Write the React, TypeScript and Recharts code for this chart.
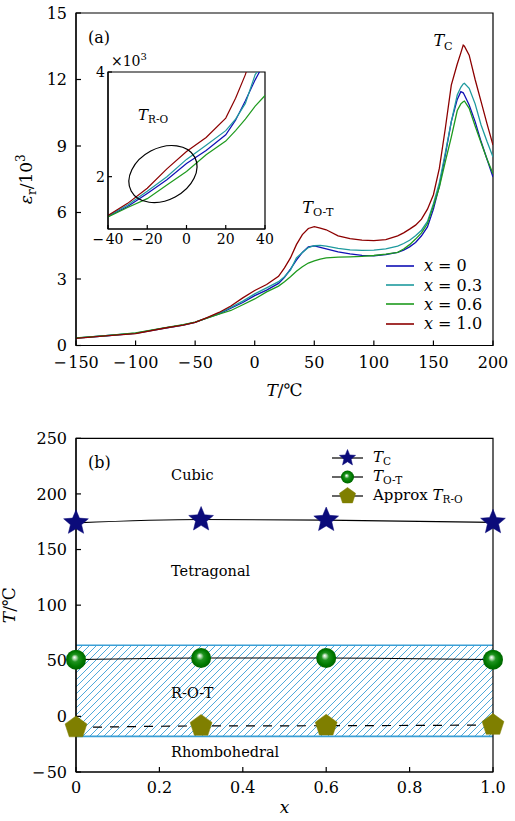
import React from 'react';
import { LineChart, Line, XAxis, YAxis, ReferenceDot, ReferenceArea, Legend } from 'recharts';

const FONT = '"DejaVu Serif", serif';

// (a) dielectric permittivity (x10^3) against temperature
const temps = [-150, -125, -100, -75, -60, -50, -40, -30, -20, -10, 0, 10, 20, 25, 30, 35, 40, 45, 50, 55, 60, 70, 80, 90, 100, 110, 120, 125, 130, 135, 140, 145, 150, 155, 160, 165, 170, 173, 175, 176, 180, 185, 190, 195, 200];
const epsX0 = [0.33, 0.44, 0.55, 0.79, 0.92, 1.04, 1.24, 1.43, 1.68, 1.94, 2.25, 2.5, 2.8, 3.08, 3.45, 3.85, 4.2, 4.45, 4.49, 4.43, 4.36, 4.22, 4.13, 4.07, 4.05, 4.1, 4.2, 4.3, 4.45, 4.65, 4.95, 5.35, 6.15, 7.2, 8.6, 10.1, 11.1, 11.45, 11.4, 11.3, 10.85, 10.1, 9.2, 8.4, 7.6];
const epsX03 = [0.33, 0.44, 0.56, 0.8, 0.93, 1.05, 1.25, 1.46, 1.72, 2.0, 2.33, 2.6, 2.88, 3.1, 3.4, 3.95, 4.2, 4.42, 4.5, 4.52, 4.48, 4.38, 4.31, 4.29, 4.3, 4.36, 4.48, 4.6, 4.75, 4.95, 5.2, 5.6, 6.4, 7.35, 8.7, 10.1, 11.3, 11.65, 11.8, 11.83, 11.6, 10.9, 9.95, 9.2, 8.5];
const epsX06 = [0.34, 0.45, 0.57, 0.81, 0.94, 1.05, 1.23, 1.41, 1.58, 1.84, 2.1, 2.42, 2.68, 2.88, 3.1, 3.35, 3.55, 3.72, 3.82, 3.9, 3.95, 3.99, 4.0, 4.02, 4.06, 4.12, 4.2, 4.35, 4.55, 4.8, 5.08, 5.5, 6.3, 7.15, 8.3, 9.4, 10.6, 10.9, 11.0, 11.03, 10.7, 9.9, 9.15, 8.4, 7.75];
const epsX10 = [0.32, 0.43, 0.54, 0.79, 0.92, 1.04, 1.26, 1.49, 1.78, 2.15, 2.48, 2.75, 3.12, 3.5, 3.95, 4.55, 5.0, 5.28, 5.36, 5.3, 5.22, 4.95, 4.82, 4.75, 4.73, 4.78, 4.95, 5.08, 5.25, 5.43, 5.7, 6.15, 6.8, 8.0, 9.8, 11.75, 12.7, 13.2, 13.55, 13.5, 13.1, 12.0, 11.0, 10.0, 9.04];

const tempTicks = [-150, -100, -50, 0, 50, 100, 150, 200];
const epsTicks = [0, 3, 6, 9, 12, 15];
const insetTempTicks = [-40, -20, 0, 20, 40];
const insetEpsTicks = [2, 4];

// (b) phase diagram
const compositions = [0, 0.3, 0.6, 1.0];
const tCurie = [174, 177, 176.5, 174.5];
const tOT = [51, 52.5, 52.5, 51];
const tRO = [-10, -8.6, -8.4, -7.8];
const rotBand = [-18, 64];
const compTicks = [0, 0.2, 0.4, 0.6, 0.8, 1.0];
const phaseTempTicks = [-50, 0, 50, 100, 150, 200, 250];

const seriesA = [
  { key: 'x0', label: '0', color: '#1010b4', values: epsX0 },
  { key: 'x03', label: '0.3', color: '#1e9a9e', values: epsX03 },
  { key: 'x06', label: '0.6', color: '#1e9a1e', values: epsX06 },
  { key: 'x10', label: '1.0', color: '#8c0000', values: epsX10 },
];

const tableA = temps.map((t, i) => {
  const row: Record<string, number> = { T: t };
  seriesA.forEach((s) => { row[s.key] = s.values[i]; });
  return row;
});

const tableB = compositions.map((x, i) => ({ x, tc: tCurie[i], tot: tOT[i], tro: tRO[i] }));

const minus = (v: number) => (v < 0 ? `\u2212\u200A${-v}` : `${v}`);

const tickStyle = { fill: '#000', fontSize: 16, fontFamily: FONT };

// text placed at a data point
const note = (content: React.ReactNode, size = 16) => (p: any) => (
  <text x={p.cx} y={p.cy} fontFamily={FONT} fontSize={size} fill="#000">{content}</text>
);

const sub = (base: string, s: string, size = 16) => [
  <tspan key="b" fontStyle="italic">{base}</tspan>,
  <tspan key="s" fontSize={size * 0.7} dy={size * 0.22}>{s}</tspan>,
];

const starPts = (cx: number, cy: number, R: number) =>
  Array.from({ length: 10 }, (_, i) => {
    const a = -Math.PI / 2 + (i * Math.PI) / 5;
    const rad = i % 2 === 0 ? R : R * 0.45;
    return `${cx + rad * Math.cos(a)},${cy + rad * Math.sin(a)}`;
  }).join(' ');

const pentPts = (cx: number, cy: number, R: number) =>
  Array.from({ length: 5 }, (_, i) => {
    const a = -Math.PI / 2 + (i * 2 * Math.PI) / 5;
    return `${cx + R * Math.cos(a)},${cy + R * Math.sin(a)}`;
  }).join(' ');

const Star = ({ cx, cy, r }: any) => <polygon points={starPts(cx, cy, r)} fill="#0b0b7a" stroke="#0b0b7a" strokeWidth={0.5} />;
const Pent = ({ cx, cy, r }: any) => <polygon points={pentPts(cx, cy, r)} fill="#7f7f00" stroke="#7f7f00" strokeWidth={0.5} />;
const Ball = ({ cx, cy, r }: any) => (
  <g>
    <defs>
      <radialGradient id="ballGrad" cx="0.5" cy="0.5" r="0.5" fx="0.42" fy="0.38">
        <stop offset="0" stopColor="#ffffff" />
        <stop offset="0.15" stopColor="#b8e0b8" />
        <stop offset="0.38" stopColor="#1f931f" />
        <stop offset="0.75" stopColor="#007a00" />
        <stop offset="1" stopColor="#006400" />
      </radialGradient>
    </defs>
    <circle cx={cx} cy={cy} r={r} fill="url(#ballGrad)" />
  </g>
);

const Sub = ({ children }: { children: React.ReactNode }) => (
  <span style={{ fontSize: 10.5, position: 'relative', top: 2.5 }}>{children}</span>
);

const seriesB = [
  { key: 'tc', Marker: Star, size: 13, legend: 8.5, dash: undefined, text: <><i>T</i><Sub>C</Sub></> },
  { key: 'tot', Marker: Ball, size: 10, legend: 6.5, dash: undefined, text: <><i>T</i><Sub>O-T</Sub></> },
  { key: 'tro', Marker: Pent, size: 11.5, legend: 8.5, dash: '9 8', text: <>Approx <i>T</i><Sub>R-O</Sub></> },
];

const legendA = () => (
  <div style={{ fontFamily: FONT, fontSize: 16, color: '#000' }}>
    {seriesA.map((s) => (
      <div key={s.key} style={{ display: 'flex', alignItems: 'center', height: 19.4 }}>
        <svg width={28} height={4}><line x1={0} x2={28} y1={2} y2={2} stroke={s.color} strokeWidth={1.6} /></svg>
        <span style={{ marginLeft: 10, whiteSpace: 'nowrap' }}><i>x</i> = {s.label}</span>
      </div>
    ))}
  </div>
);

const legendB = () => (
  <div style={{ fontFamily: FONT, fontSize: 15, color: '#000' }}>
    {seriesB.map((s) => (
      <div key={s.key} style={{ display: 'flex', alignItems: 'center', height: 19, lineHeight: '17px' }}>
        <svg width={31} height={18}>
          <line x1={0} x2={31} y1={9} y2={9} stroke="#000" strokeWidth={1.2} />
          <s.Marker cx={15.5} cy={9} r={s.legend} />
        </svg>
        <span style={{ marginLeft: 10, whiteSpace: 'nowrap' }}>{s.text}</span>
      </div>
    ))}
  </div>
);

const rotatedLabel = (content: React.ReactNode, dx: number) => (props: any) => {
  const vb = props.viewBox;
  const x = vb.x + dx;
  const y = vb.y + vb.height / 2;
  return (
    <text x={x} y={y} dy="0.35em" transform={`rotate(-90 ${x} ${y})`} textAnchor="middle" fontFamily={FONT} fontSize={17} fill="#000">
      {content}
    </text>
  );
};

const bottomLabel = (content: React.ReactNode, dy: number) => (props: any) => {
  const vb = props.viewBox;
  return (
    <text x={vb.x + vb.width / 2} y={vb.y + dy} textAnchor="middle" fontFamily={FONT} fontSize={17} fill="#000">
      {content}
    </text>
  );
};

const HatchBand = (p: any) => (
  <g>
    <defs>
      <pattern id="rotHatch" patternUnits="userSpaceOnUse" width={7} height={7}>
        <path d="M-1,1 L1,-1 M0,7 L7,0 M6,8 L8,6" stroke="#3a9fd6" strokeWidth={0.9} />
      </pattern>
    </defs>
    <rect x={p.x} y={p.y} width={p.width} height={p.height} fill="url(#rotHatch)" />
    <line x1={p.x} x2={p.x + p.width} y1={p.y} y2={p.y} stroke="#3a9fd6" strokeWidth={1.6} />
    <line x1={p.x} x2={p.x + p.width} y1={p.y + p.height} y2={p.y + p.height} stroke="#3a9fd6" strokeWidth={1.6} />
  </g>
);

export default function App() {
  return (
    <div style={{ position: 'absolute', left: 0, top: 0, width: 515, height: 821, background: '#fff', fontFamily: FONT }}>
      {/* (a) main permittivity curves */}
      <div style={{ position: 'absolute', left: 0, top: 0 }}>
        <LineChart width={515} height={400} data={tableA} margin={{ top: 13, right: 22, left: 4, bottom: 24.5 }}>
          <XAxis dataKey="T" type="number" domain={[-150, 200]} ticks={tempTicks} tickFormatter={minus} allowDataOverflow
            tickSize={-5} tickMargin={16.5} height={30} stroke="#000" strokeWidth={1.2} tick={tickStyle}
            label={bottomLabel(<><tspan fontStyle="italic">T</tspan>/℃</>, 50)} />
          <YAxis type="number" domain={[0, 15]} ticks={epsTicks} allowDataOverflow width={72}
            tickSize={-5} tickMargin={14} stroke="#000" strokeWidth={1.2} tick={tickStyle}
            label={rotatedLabel(<><tspan fontStyle="italic">ε</tspan><tspan fontSize={12} dy={4}>r</tspan><tspan dy={-4}>/10</tspan><tspan fontSize={12} dy={-7}>3</tspan></>, 22)} />
          <ReferenceArea x1={-150} x2={200} y1={0} y2={15} fill="none" stroke="#000" strokeWidth={1.2} />
          {seriesA.map((s) => (
            <Line key={s.key} dataKey={s.key} type="linear" stroke={s.color} strokeWidth={1.3} dot={false} activeDot={false} isAnimationActive={false} />
          ))}
          <ReferenceDot x={-140} y={13.65} shape={note('(a)')} />
          <ReferenceDot x={150} y={13.5} shape={note(sub('T', 'C'))} />
          <ReferenceDot x={40} y={6.0} shape={note(sub('T', 'O-T'))} />
          <Legend layout="vertical" align="center" verticalAlign="middle" content={legendA}
            wrapperStyle={{ left: 386, top: 256, width: 120, height: 80 }} />
        </LineChart>
      </div>

      {/* (a) inset around the R-O transition */}
      <div style={{ position: 'absolute', left: 50, top: 50 }}>
        <LineChart width={230} height={210} data={tableA} margin={{ top: 22, right: 15, left: 8, bottom: 6 }}>
          <XAxis dataKey="T" type="number" domain={[-40, 40]} ticks={insetTempTicks} tickFormatter={minus} allowDataOverflow
            tickSize={-4} tickMargin={9} height={25} stroke="#000" strokeWidth={1.2} tick={{ ...tickStyle, fontSize: 14 }} />
          <YAxis type="number" domain={[1, 4]} ticks={insetEpsTicks} allowDataOverflow width={50}
            tickSize={-4} tickMargin={7} stroke="#000" strokeWidth={1.2} tick={{ ...tickStyle, fontSize: 14 }} />
          <ReferenceArea x1={-40} x2={40} y1={1} y2={4} fill="#fff" fillOpacity={1} stroke="#000" strokeWidth={1.2} />
          {seriesA.map((s) => (
            <Line key={s.key} dataKey={s.key} type="linear" stroke={s.color} strokeWidth={1.2} dot={false} activeDot={false} isAnimationActive={false} />
          ))}
          <ReferenceDot x={-12} y={2.05} ifOverflow="visible"
            shape={(p: any) => <ellipse cx={p.cx} cy={p.cy} rx={36} ry={26} transform={`rotate(-28 ${p.cx} ${p.cy})`} fill="none" stroke="#000" strokeWidth={1.2} />} />
          <ReferenceDot x={-24.7} y={3.08} shape={note(sub('T', 'R-O', 15), 15)} />
          <ReferenceDot x={-38.5} y={4.12} ifOverflow="visible"
            shape={note(<><tspan>×10</tspan><tspan fontSize={10} dy={-6}>3</tspan></>, 14)} />
        </LineChart>
      </div>

      {/* (b) phase diagram */}
      <div style={{ position: 'absolute', left: 0, top: 420 }}>
        <LineChart width={515} height={401} data={tableB} margin={{ top: 18.3, right: 22, left: 4, bottom: 19 }}>
          <XAxis dataKey="x" type="number" domain={[0, 1]} ticks={compTicks} tickFormatter={(v: number) => (v === 0 ? '0' : v.toFixed(1))}
            tickSize={-5} tickMargin={14.7} height={30} stroke="#000" strokeWidth={1.2} tick={tickStyle}
            label={bottomLabel(<tspan fontStyle="italic">x</tspan>, 41)} />
          <YAxis type="number" domain={[-50, 250]} ticks={phaseTempTicks} tickFormatter={minus} width={72}
            tickSize={-5} tickMargin={14} stroke="#000" strokeWidth={1.2} tick={tickStyle}
            label={rotatedLabel(<><tspan fontStyle="italic">T</tspan>/℃</>, 5)} />
          <ReferenceArea x1={0} x2={1} y1={rotBand[0]} y2={rotBand[1]} shape={HatchBand} />
          <ReferenceArea x1={0} x2={1} y1={-50} y2={250} fill="none" stroke="#000" strokeWidth={1.2} />
          {seriesB.map((s) => (
            <Line key={s.key} dataKey={s.key} type="monotone" stroke="#000" strokeWidth={1.2} strokeDasharray={s.dash}
              activeDot={false} isAnimationActive={false}
              dot={(p: any) => <s.Marker key={`${s.key}-${p.index}`} cx={p.cx} cy={p.cy} r={s.size} />} />
          ))}
          <ReferenceDot x={0.029} y={223.3} shape={note('(b)')} />
          <ReferenceDot x={0.228} y={212.6} shape={note('Cubic', 14.5)} />
          <ReferenceDot x={0.228} y={126.5} shape={note('Tetragonal', 14.5)} />
          <ReferenceDot x={0.228} y={16.8} shape={note('R-O-T', 14.5)} />
          <ReferenceDot x={0.228} y={-36.2} shape={note('Rhombohedral', 14.5)} />
          <Legend layout="vertical" align="center" verticalAlign="middle" content={legendB}
            wrapperStyle={{ left: 332, top: 28.8, width: 170, height: 60 }} />
        </LineChart>
      </div>
    </div>
  );
}
